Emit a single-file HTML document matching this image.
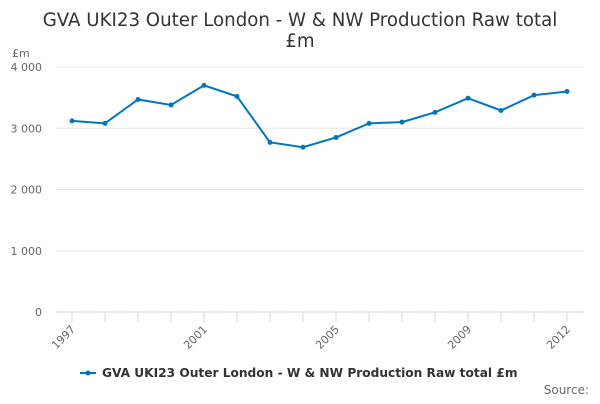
<!DOCTYPE html>
<html><head><meta charset="utf-8"><style>
body{margin:0;background:#fff;font-family:"DejaVu Sans",sans-serif;}
#c{width:600px;height:400px;position:relative;}
svg text{font-family:"DejaVu Sans",sans-serif;}
</style></head><body>
<div id="c">
<svg id="s" width="600" height="400" xmlns="http://www.w3.org/2000/svg">
<text x="300" y="26" text-anchor="middle" font-size="18.2" fill="#333">GVA UKI23 Outer London - W &amp; NW Production Raw total</text>
<text x="300" y="47" text-anchor="middle" font-size="18.2" fill="#333">£m</text>
<text x="12" y="57" font-size="11" fill="#666">£m</text>
<g id="grid"></g><g id="xt"></g><g id="series"></g>
<g>
<line x1="80" y1="373" x2="96" y2="373" stroke="#0077bb" stroke-width="2"/>
<circle cx="88" cy="373" r="2.5" fill="#0077bb"/>
<text x="102" y="377" font-size="12.2" font-weight="bold" fill="#333">GVA UKI23 Outer London - W &amp; NW Production Raw total £m</text>
</g>
<text x="589" y="394" text-anchor="end" font-size="12" fill="#666">Source:</text>
</svg></div>
<script>
const years=[1997,1998,1999,2000,2001,2002,2003,2004,2005,2006,2007,2008,2009,2010,2011,2012];
const values=[3120,3080,3470,3380,3700,3520,2770,2690,2850,3080,3100,3260,3490,3290,3540,3600];
const yTicks=[0,1000,2000,3000,4000];
const yTickLabels=["0","1 000","2 000","3 000","4 000"];
const xLabelYears=[1997,2001,2005,2009,2012];
const NS="http://www.w3.org/2000/svg";
const x=v=>72+(v-1997)*33;
const y=v=>312-v*0.06125;
function mk(t,a,p){const e=document.createElementNS(NS,t);for(const k in a)e.setAttribute(k,a[k]);p.appendChild(e);return e;}
const g=document.getElementById('grid');
yTicks.forEach((t,i)=>{
 const l=mk('line',{x1:56,x2:584,y1:y(t),y2:y(t),stroke:i===0?'#ccd6eb':'#e6e6e6','stroke-width':1},g);
 
 
 const tx=mk('text',{x:42,y:y(t)+4,'text-anchor':'end','font-size':11,fill:'#666'},g);
 tx.textContent=yTickLabels[i];
 
 
});
const xt=document.getElementById('xt');
years.forEach(yr=>{
 const l=mk('line',{x1:x(yr),x2:x(yr),y1:312,y2:322,stroke:'#ccd6eb'},xt);
 
 
});
xLabelYears.forEach(yr=>{
 const t=mk('text',{x:x(yr)+4,y:330,'text-anchor':'end','font-size':11,fill:'#666',transform:`rotate(-45 ${x(yr)+4} 330)`},xt);
 t.textContent=yr;
 
 
});
const s=document.getElementById('series');
const p=mk('polyline',{points:years.map((yr,i)=>x(yr)+','+y(values[i])).join(' '),fill:'none',stroke:'#0077bb','stroke-width':2},s);


years.forEach((yr,i)=>{
 const c=mk('circle',{cx:x(yr),cy:y(values[i]),r:2.5,fill:'#0077bb'},s);
 
 
});
</script>
</body></html>
